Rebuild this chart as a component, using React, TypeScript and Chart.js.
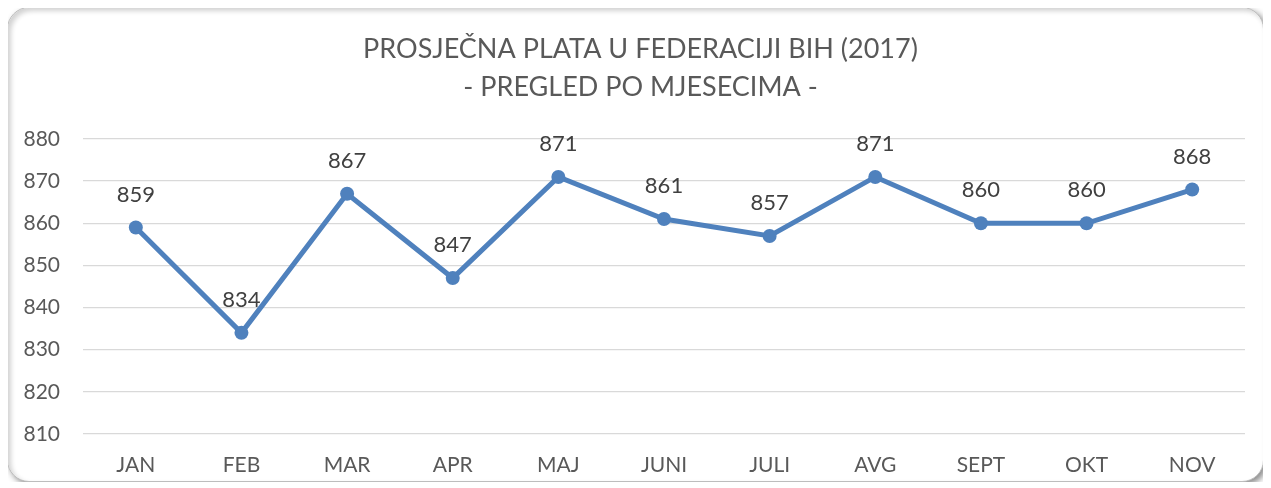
import React, { useEffect, useRef } from "react";
import { Chart, registerables } from "chart.js";

Chart.register(...registerables);

const months = ["JAN", "FEB", "MAR", "APR", "MAJ", "JUNI", "JULI", "AVG", "SEPT", "OKT", "NOV"];
const salaries = [859, 834, 867, 847, 871, 861, 857, 871, 860, 860, 868];
const titleLines = ["PROSJEČNA PLATA U FEDERACIJI BIH (2017)", "- PREGLED PO MJESECIMA -"];
const yMin = 810;
const yMax = 880;
const yStep = 10;

const FONT = "Lato, 'Noto Sans', sans-serif";
const LINE_COLOR = "#4F81BD";

const titlePlugin = {
  id: "twoLineTitle",
  afterDraw(chart: any) {
    const ctx = chart.ctx;
    ctx.save();
    ctx.font = `27px ${FONT}`;
    ctx.fillStyle = "#595959";
    ctx.textAlign = "center";
    ctx.textBaseline = "middle";
    titleLines.forEach((line, i) => {
      ctx.fillText(line, 632.5, 41.5 + i * 38);
    });
    ctx.restore();
  },
};

const dataLabelPlugin = {
  id: "dataLabels",
  afterDatasetsDraw(chart: any) {
    const ctx = chart.ctx;
    const meta = chart.getDatasetMeta(0);
    const values = chart.data.datasets[0].data;
    ctx.save();
    ctx.font = `22px ${FONT}`;
    ctx.fillStyle = "#404040";
    ctx.textAlign = "center";
    ctx.textBaseline = "middle";
    meta.data.forEach((pt: any, i: number) => {
      ctx.fillText(String(values[i]), pt.x, pt.y - 33);
    });
    ctx.restore();
  },
};

export default function App() {
  const ref = useRef<HTMLCanvasElement | null>(null);
  useEffect(() => {
    if (!ref.current) return;
    const chart = new Chart(ref.current, {
      type: "line",
      data: {
        labels: months,
        datasets: [
          {
            data: salaries,
            borderColor: LINE_COLOR,
            backgroundColor: LINE_COLOR,
            borderWidth: 5,
            pointRadius: 7,
            pointBackgroundColor: LINE_COLOR,
            pointBorderColor: LINE_COLOR,
            pointBorderWidth: 0,
            tension: 0,
          },
        ],
      },
      options: {
        responsive: false,
        animation: false,
        layout: { padding: { left: 0, right: 18, top: 131, bottom: 0 } },
        plugins: {
          legend: { display: false },
          tooltip: { enabled: false },
          title: { display: false },
        },
        scales: {
          x: {
            offset: true,
            grid: { display: false, drawTicks: false },
            border: { display: false },
            ticks: {
              color: "#595959",
              font: { family: FONT, size: 21 },
              padding: 18.5,
              maxRotation: 0,
            },
            afterFit(scale: any) {
              scale.height = 47;
            },
          },
          y: {
            min: yMin,
            max: yMax,
            grid: { color: "#d9d9d9", lineWidth: 1.3, drawTicks: false },
            border: { display: false },
            ticks: {
              stepSize: yStep,
              color: "#595959",
              font: { family: FONT, size: 21 },
              padding: 23,
            },
            afterFit(scale: any) {
              scale.width = 75;
            },
          },
        },
      },
      plugins: [dataLabelPlugin, titlePlugin],
    });
    return () => chart.destroy();
  }, []);

  return (
    <div
      style={{
        position: "relative",
        width: 1257,
        height: 475,
        boxSizing: "border-box",
        border: "1px solid #bdbdbd",
        borderRadius: 22,
        background: "#fff",
        boxShadow: "3px 3px 6px rgba(0,0,0,0.45), inset 3px 3px 5px rgba(0,0,0,0.18)",
        marginLeft: -1,
        marginTop: -1,
      }}
    >
      <canvas ref={ref} width={1255} height={473} style={{ display: "block" }} />
    </div>
  );
}
